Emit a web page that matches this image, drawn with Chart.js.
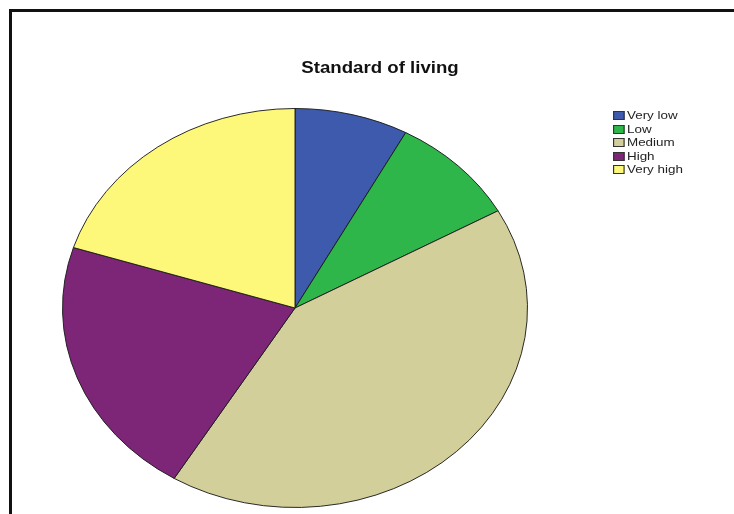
<!DOCTYPE html>
<html lang="en">
<head>
    <meta charset="UTF-8">
    <title>Standard of living</title>
    <style>
        body {
            margin: 0;
            background-color: white;
            font-family: Arial, "Liberation Sans", sans-serif;
            overflow: hidden;
        }
        .wrap {
            position: relative;
            width: 734px;
            height: 514px;
        }
        .frame {
            position: absolute;
            left: 9px;
            top: 9px;
            width: 740px;
            height: 520px;
            border-left: 3px solid #111;
            border-top: 3px solid #111;
        }
        #pieChart {
            position: absolute;
            left: 0;
            top: 0;
        }
        /* the whole reference picture is stretched sideways, text included */
        .title {
            position: absolute;
            left: 280px;
            width: 200px;
            top: 59px;
            text-align: center;
            font-weight: bold;
            font-size: 16px;
            color: #111;
            transform: scaleX(1.165);
        }
        #labelContainer {
            position: absolute;
            left: 613px;
            top: 109px;
            transform: scaleX(1.165);
            transform-origin: left top;
        }
        .label-item {
            height: 13.5px;
            font-size: 11.5px;
            line-height: 13.5px;
            color: #222;
            white-space: nowrap;
        }
        .label-item span {
            display: inline-block;
            width: 8px;
            height: 7px;
            border: 1px solid #333;
            margin-right: 2px;
            vertical-align: -1px;
        }
    </style>
</head>
<body>
    <div class="wrap">
        <div class="frame"></div>
        <canvas id="pieChart" width="734" height="514"></canvas>
        <div class="title">Standard of living</div>
        <div id="labelContainer"></div>
    </div>

    <script src="https://cdn.jsdelivr.net/npm/chart.js"></script>
    <script>
        // percent of respondents
        const categories = ['Very low', 'Low', 'Medium', 'High', 'Very high'];
        const percents = [7.9, 9.0, 41.8, 21.2, 20.1];
        const colors = ['#3d5aad', '#2fb64a', '#d3cf9b', '#7d2678', '#fdf87a'];

        // the reference pie is squashed into an ellipse
        const squash = 199.5 / 232.5;
        const ellipsePlugin = {
            id: 'ellipse',
            beforeDatasetsDraw(chart) {
                const arc = chart.getDatasetMeta(0).data[0];
                const ctx = chart.ctx;
                ctx.save();
                ctx.translate(arc.x, arc.y);
                ctx.scale(1, squash);
                ctx.translate(-arc.x, -arc.y);
            },
            afterDatasetsDraw(chart) {
                chart.ctx.restore();
            }
        };

        const ctx = document.getElementById('pieChart').getContext('2d');
        new Chart(ctx, {
            type: 'pie',
            data: {
                labels: categories,
                datasets: [{
                    data: percents,
                    backgroundColor: colors,
                    borderColor: '#1a1a1a',
                    borderWidth: 1,
                    clip: false
                }]
            },
            options: {
                responsive: false,
                animation: false,
                events: [],
                radius: 232.5,
                layout: {
                    padding: { left: 55, right: 199, top: 108, bottom: 6 }
                },
                plugins: {
                    legend: { display: false },
                    title: { display: false },
                    tooltip: { enabled: false }
                }
            },
            plugins: [ellipsePlugin]
        });

        const labelContainer = document.getElementById('labelContainer');
        categories.forEach((label, index) => {
            const labelItem = document.createElement('div');
            labelItem.className = 'label-item';
            labelItem.innerHTML = `<span style="background:${colors[index]}"></span>${label}`;
            labelContainer.appendChild(labelItem);
        });
    </script>
</body>
</html>
